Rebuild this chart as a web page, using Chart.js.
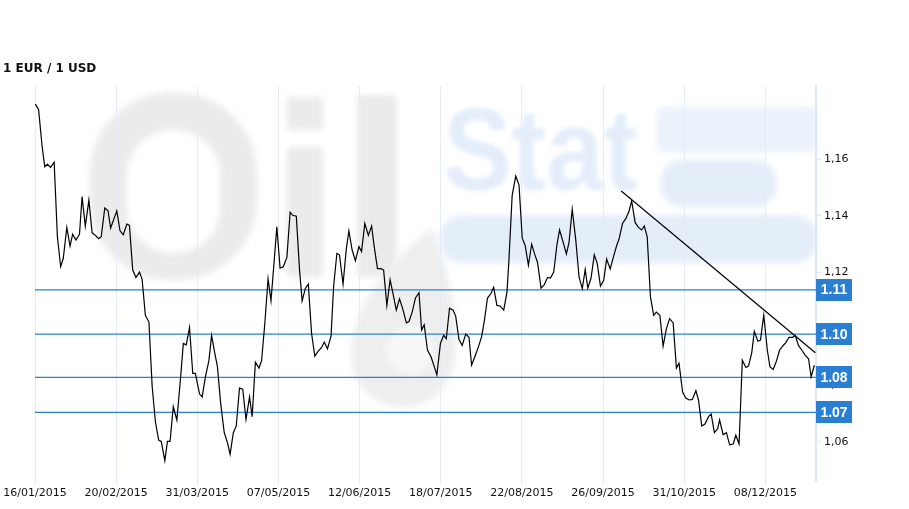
<!DOCTYPE html>
<html>
<head>
<meta charset="utf-8">
<script src="https://cdn.jsdelivr.net/npm/chart.js@4.4.1/dist/chart.umd.min.js"></script>
<style>
  body { margin: 0; background: #fff; }
  #wrap { width: 909px; height: 509px; }
</style>
</head>
<body>
<div id="wrap"><canvas id="myChart" width="909" height="509"></canvas></div>
<script>
// trading-day index along x, EUR/USD rate
const dayIndex = [0.1,1.1,2.2,3.0,3.8,4.8,5.9,6.9,7.9,8.7,9.8,10.8,11.6,12.6,13.7,14.5,15.5,16.6,17.6,18.6,19.6,20.4,21.5,22.5,23.3,24.4,25.2,26.2,27.2,28.3,29.1,30.1,31.1,32.2,33.0,34.0,35.1,36.1,37.1,38.1,38.9,40.0,40.8,41.6,42.6,43.7,44.7,45.7,46.6,47.6,48.6,49.4,50.7,51.5,52.5,53.6,54.4,55.4,56.2,57.2,
  58.3,59.3,60.1,61.1,62.0,63.0,64.0,65.0,66.1,66.9,67.9,69.0,69.8,70.8,71.8,72.7,73.7,74.5,75.5,76.5,77.6,78.6,79.4,80.5,81.5,82.3,83.3,84.2,85.2,86.2,87.2,88.3,89.1,90.1,91.2,92.0,93.0,93.8,94.9,95.9,96.7,97.7,98.7,99.8,100.6,101.6,102.7,103.7,104.5,105.5,106.6,107.4,108.4,109.4,110.5,111.3,112.3,113.4,114.4,115.2,116.2,117.2,118.3,
  119.1,119.9,120.9,122.0,123.0,123.8,124.9,125.9,126.7,127.7,128.8,129.6,130.6,131.6,132.7,133.7,134.5,135.5,136.6,137.6,138.4,139.4,140.5,141.3,142.3,143.3,144.4,145.4,146.0,147.0,148.1,149.1,150.1,151.0,152.0,153.0,154.0,154.8,155.9,156.9,157.9,158.8,159.8,160.8,161.6,162.7,163.7,164.5,165.5,166.6,167.6,168.6,169.5,170.3,171.3,172.3,173.2,174.2,175.2,176.1,177.2,178.2,179.2,179.9,
  181.0,182.0,183.0,183.8,184.9,185.9,186.9,187.7,188.6,189.6,190.6,191.4,192.5,193.5,194.5,195.5,196.6,197.6,198.4,199.5,200.5,201.5,202.5,203.6,204.4,205.4,206.4,207.5,208.3,209.3,210.3,210.9,212.0,213.0,214.0,215.1,215.9,216.9,217.9,219.0,219.8,220.8,221.6,222.7,223.5,224.5,225.6,226.4,227.4,228.4,229.4,230.5,231.3,232.3,233.4,234.2,235.2,236.2,237.3,238.3,239.1,240.1];
const rate = [1.1796,1.1777,1.1645,1.1574,1.1583,1.1572,1.1590,1.1326,1.1220,1.1249,1.1359,1.1293,1.1335,1.1314,1.1335,1.1468,1.1364,1.1456,1.1340,1.1331,1.1319,1.1326,1.1428,1.1418,1.1357,1.1392,1.1418,1.1347,1.1333,1.1371,1.1366,1.1208,1.1182,1.1201,1.1175,1.1048,1.1024,1.0795,1.0670,1.0606,1.0601,1.0533,1.0601,1.0601,1.0724,1.0677,1.0807,1.0948,1.0943,1.1005,1.0842,1.0842,1.0769,1.0759,1.0830,1.0889,1.0977,1.0913,1.0866,1.0736,
  1.0632,1.0596,1.0556,1.0632,1.0656,1.0790,1.0786,1.0679,1.0759,1.0689,1.0882,1.0861,1.0887,1.1019,1.1177,1.1099,1.1243,1.1361,1.1215,1.1220,1.1253,1.1413,1.1402,1.1399,1.1208,1.1099,1.1144,1.1158,1.0984,1.0903,1.0920,1.0934,1.0953,1.0929,1.0974,1.1151,1.1267,1.1262,1.1158,1.1283,1.1347,1.1279,1.1241,1.1291,1.1274,1.1373,1.1331,1.1364,1.1291,1.1213,1.1213,1.1208,1.1083,1.1173,1.1113,1.1066,1.1106,1.1066,1.1021,1.1026,1.1059,1.1109,1.1128,
  1.0996,1.1014,1.0925,1.0901,1.0866,1.0837,1.0948,1.0977,1.0965,1.1073,1.1066,1.1045,1.0963,1.0941,1.0981,1.0970,1.0871,1.0901,1.0936,1.0972,1.1026,1.1109,1.1126,1.1147,1.1083,1.1081,1.1066,1.1130,1.1243,1.1473,1.1541,1.1510,1.1321,1.1295,1.1225,1.1300,1.1262,1.1236,1.1144,1.1156,1.1182,1.1180,1.1201,1.1298,1.1350,1.1307,1.1265,1.1305,1.1423,1.1314,1.1184,1.1142,1.1210,1.1144,1.1180,1.1262,1.1232,1.1151,1.1172,1.1247,1.1212,1.1255,1.1295,1.1317,
  1.1373,1.1390,1.1416,1.1453,1.1376,1.1359,1.1350,1.1364,1.1326,1.1113,1.1048,1.1059,1.1048,1.0939,1.1000,1.1036,1.1021,1.0861,1.0878,1.0776,1.0755,1.0748,1.0750,1.0781,1.0748,1.0656,1.0663,1.0689,1.0698,1.0632,1.0646,1.0677,1.0625,1.0632,1.0589,1.0592,1.0623,1.0592,1.0889,1.0863,1.0868,1.0915,1.0991,1.0956,1.0960,1.1048,1.0925,1.0866,1.0856,1.0885,1.0925,1.0941,1.0951,1.0970,1.0970,1.0977,1.0941,1.0925,1.0906,1.0894,1.0830,1.0871];

const tickDays = [0,25,50,75,100,125,150,175,200,225];
const tickDates = ['16/01/2015','20/02/2015','31/03/2015','07/05/2015','12/06/2015','18/07/2015','22/08/2015','26/09/2015','31/10/2015','08/12/2015'];
const rateTicks = [1.06,1.08,1.10,1.12,1.14,1.16];

const levelValues = [1.1138,1.0981,1.0828,1.0704];
const levelLabels = ['1.11','1.10','1.08','1.07'];

const trendX = [180.6,240.4];
const trendY = [1.1488,1.0915];

const X_MAX = 240.6;

const points = dayIndex.map((d,i) => ({x: d, y: rate[i]}));

const datasets = [{
  data: points,
  borderColor: '#000',
  borderWidth: 1.2,
  pointRadius: 0,
  tension: 0,
  order: 0
}, {
  data: trendX.map((d,i) => ({x: d, y: trendY[i]})),
  borderColor: '#000',
  borderWidth: 1.2,
  pointRadius: 0,
  order: 1
}];
levelValues.forEach(v => {
  datasets.push({
    data: [{x: 0, y: v}, {x: X_MAX, y: v}],
    borderColor: '#2b80d5',
    borderWidth: 1.2,
    pointRadius: 0,
    order: 2
  });
});

// background + faint logo watermark
const backdrop = {
  id: 'backdrop',
  beforeDraw(chart) {
    const ctx = chart.ctx;
    ctx.save();
    ctx.fillStyle = '#fff';
    ctx.fillRect(0, 0, chart.width, chart.height);
    ctx.filter = 'blur(3px)';
    // "O"
    ctx.fillStyle = '#ebebeb';
    ctx.beginPath();
    ctx.roundRect(90, 93, 167, 187, 80);
    ctx.roundRect(127, 130, 93, 123, 45);
    ctx.fill('evenodd');
    // "i" and "l"
    ctx.beginPath();
    ctx.roundRect(287, 97, 36, 33, 4);
    ctx.roundRect(287, 147, 36, 130, 4);
    ctx.roundRect(357, 95, 40, 182, 4);
    ctx.fill();
    // drop
    ctx.fillStyle = '#eeeeee';
    ctx.beginPath();
    ctx.moveTo(432, 228);
    ctx.quadraticCurveTo(460, 300, 455, 355);
    ctx.arc(403, 355, 52, 0, Math.PI);
    ctx.quadraticCurveTo(352, 290, 432, 228);
    ctx.fill();
    ctx.fillStyle = '#f7f7f7';
    ctx.beginPath();
    ctx.arc(410, 350, 24, 0, Math.PI * 2);
    ctx.fill();
    // "Stat" and bars
    ctx.fillStyle = '#e9f2fb';
    ctx.beginPath();
    ctx.roundRect(657, 107, 160, 45, 6);
    ctx.fill();
    ctx.fillStyle = '#e4eef9';
    ctx.beginPath();
    ctx.roundRect(660, 160, 117, 47, 22);
    ctx.roundRect(440, 215, 377, 48, 22);
    ctx.fill();
    ctx.filter = 'blur(2px)';
    ctx.fillStyle = '#e4eefa';
    ctx.translate(443, 190);
    ctx.scale(0.89, 1);
    ctx.font = 'bold 116px "Liberation Sans"';
    ctx.textBaseline = 'alphabetic';
    ctx.fillText('Stat', 0, 0);
    ctx.restore();
  }
};

const decorations = {
  id: 'decorations',
  afterDraw(chart) {
    const ctx = chart.ctx;
    const y = chart.scales.y;
    ctx.save();
    ctx.fillStyle = '#111';
    ctx.font = 'bold 12px "DejaVu Sans"';
    ctx.textBaseline = 'middle';
    ctx.textAlign = 'left';
    ctx.fillText('1 EUR / 1 USD', 3, 69);
    levelValues.forEach((v, i) => {
      const py = y.getPixelForValue(v);
      ctx.fillStyle = '#2b7fd3';
      ctx.fillRect(816, Math.round(py) - 11, 36, 22);
      ctx.fillStyle = '#fff';
      ctx.font = 'bold 14px "Liberation Sans"';
      ctx.textAlign = 'center';
      ctx.fillText(levelLabels[i], 834, py + 0.5);
    });
    ctx.restore();
  }
};

new Chart(document.getElementById('myChart'), {
  type: 'line',
  data: { datasets: datasets },
  options: {
    responsive: false,
    animation: false,
    layout: { padding: { top: 86, left: 35, right: 0, bottom: 0 } },
    plugins: { legend: { display: false }, tooltip: { enabled: false }, title: { display: false } },
    scales: {
      x: {
        type: 'linear',
        min: 0,
        max: X_MAX,
        afterBuildTicks: s => { s.ticks = tickDays.map(v => ({value: v})); },
        afterFit: s => { s.height = 28; },
        border: { display: false },
        grid: { color: '#e4edf7', lineWidth: 1, tickLength: 4 },
        ticks: {
          autoSkip: false,
          maxRotation: 0,
          padding: 2,
          color: '#111',
          font: { family: '"DejaVu Sans"', size: 11 },
          callback: (v) => tickDates[tickDays.indexOf(v)]
        }
      },
      y: {
        position: 'right',
        min: 1.0461,
        max: 1.186,
        afterBuildTicks: s => { s.ticks = rateTicks.map(v => ({value: v})); },
        afterFit: s => { s.width = 93; },
        border: { display: true, color: '#dbe7f3', width: 2 },
        grid: { drawOnChartArea: false, color: '#dbe7f3', tickLength: 5 },
        ticks: {
          padding: 3,
          color: '#111',
          font: { family: '"DejaVu Sans"', size: 11 },
          callback: v => v.toFixed(2).replace('.', ',')
        }
      }
    }
  },
  plugins: [backdrop, decorations]
});
</script>
</body>
</html>
